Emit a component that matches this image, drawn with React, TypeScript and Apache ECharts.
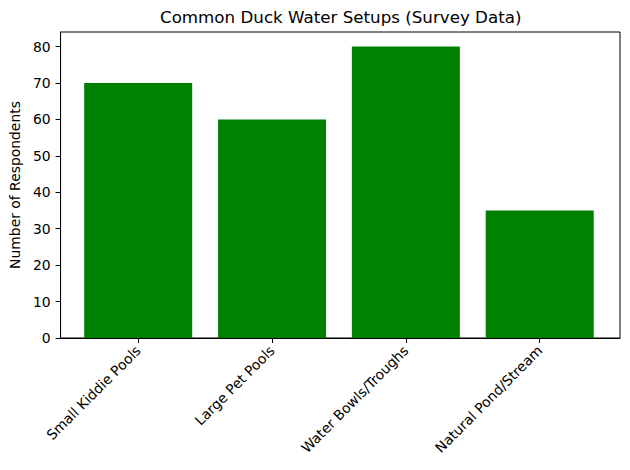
import { useEffect, useRef } from 'react';
import * as echarts from 'echarts';

const categories = ['Small Kiddie Pools', 'Large Pet Pools', 'Water Bowls/Troughs', 'Natural Pond/Stream'];
const respondents = [70, 60, 80, 35];
const yTicks = [0, 10, 20, 30, 40, 50, 60, 70, 80];
const xPositions = categories.map((_, i) => i);

const font = 'DejaVu Sans';

export default function App() {
  const chartRef = useRef<HTMLDivElement | null>(null);

  useEffect(() => {
    document.body.style.margin = '0';
    if (!chartRef.current) return;
    const chart = echarts.init(chartRef.current, null, { renderer: 'svg' });

    chart.setOption({
      animation: false,
      textStyle: { fontFamily: font, color: '#000' },
      title: {
        text: 'Common Duck Water Setups (Survey Data)',
        left: 160,
        top: 8,
        padding: 0,
        textStyle: { fontFamily: font, fontSize: 16.7, fontWeight: 'normal', color: '#000' },
      },
      grid: {
        left: 58,
        right: 10,
        top: 32,
        bottom: 132,
        show: true,
        borderColor: '#000',
        borderWidth: 1,
        backgroundColor: 'transparent',
      },
      xAxis: {
        type: 'value',
        min: -0.58,
        max: 3.6,
        splitLine: { show: false },
        axisLine: { show: true, onZero: false, lineStyle: { color: '#000', width: 1 } },
        axisTick: { show: true, length: 5, customValues: xPositions, lineStyle: { color: '#000' } },
        axisLabel: {
          customValues: xPositions,
          rotate: 45,
          margin: 10,
          fontFamily: font,
          fontSize: 13.9,
          color: '#000',
          formatter: (v: number) => categories[Math.round(v)] ?? '',
        },
      },
      yAxis: {
        type: 'value',
        min: 0,
        max: 84,
        name: 'Number of Respondents',
        nameLocation: 'middle',
        nameGap: 35,
        nameTextStyle: { fontFamily: font, fontSize: 13.9, color: '#000' },
        splitLine: { show: false },
        axisLine: { show: true, onZero: false, lineStyle: { color: '#000', width: 1 } },
        axisTick: { show: true, length: 5, customValues: yTicks, lineStyle: { color: '#000' } },
        axisLabel: {
          customValues: yTicks,
          margin: 10,
          fontFamily: font,
          fontSize: 13.9,
          color: '#000',
        },
      },
      series: [
        {
          type: 'bar',
          data: respondents.map((v, i) => [xPositions[i], v]),
          barWidth: 108,
          itemStyle: { color: '#008000' },
        },
      ],
    });

    return () => chart.dispose();
  }, []);

  return <div ref={chartRef} style={{ width: 630, height: 470 }} />;
}
